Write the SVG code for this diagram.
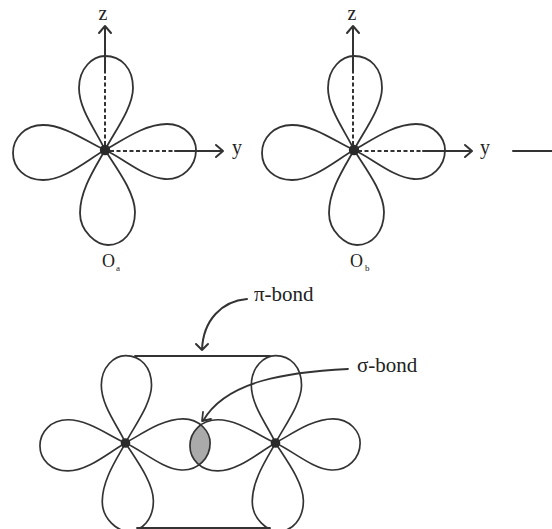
<svg xmlns="http://www.w3.org/2000/svg" width="552" height="529" viewBox="0 0 552 529">
<style>
.l{fill:none;stroke:#333;stroke-width:1.800;stroke-linecap:round;stroke-linejoin:round}
.a{fill:none;stroke:#333;stroke-width:2;stroke-linecap:round;stroke-linejoin:round}
.d{fill:none;stroke:#333;stroke-width:2;stroke-dasharray:4 2.500}
.t{font-family:"Liberation Serif","Times New Roman",serif;font-size:20px;fill:#222}
.b{font-family:"Liberation Serif","Times New Roman",serif;font-size:21px;fill:#222}
.o{font-family:"Liberation Serif","Times New Roman",serif;font-size:18px;fill:#222}
.s{font-family:"Liberation Serif","Times New Roman",serif;font-size:9px;fill:#222}
</style>
<defs>
<g id="lobes">
<path class="l" d="M0,0C-8,-18 -26,-40 -26,-62C-26,-82 -12,-94 0,-94C16,-94 28,-82 28,-62C28,-42 8,-16 0,0Z"/>
<path class="l" d="M0,0C-10,18 -25,40 -25,63C-25,82 -8,95 3,95C18,95 30,82 30,62C30,42 10,16 0,0Z"/>
<path class="l" d="M0,0C-18,-8 -40,-25 -62,-25C-80,-25 -92,-12 -92,3C-92,18 -80,30 -62,30C-40,30 -18,10 0,0Z"/>
<path class="l" d="M0,0C18,-10 40,-26 62,-26C80,-26 91,-12 91,0C91,16 78,30 60,29C40,28 18,8 0,0Z"/>
<circle r="5.200" fill="#2a2a2a"/>
</g>
<clipPath id="leftOfRightAtom">
<path transform="translate(275.500,443) scale(.93)" d="M0,0C-18,-8 -40,-25 -62,-25C-80,-25 -92,-12 -92,3C-92,18 -80,30 -62,30C-40,30 -18,10 0,0Z"/>
</clipPath>
</defs>
<g id="connectors">
<path class="a" d="M105,72V27M99,33L105,26L111,33"/>
<path class="d" d="M105,145V72"/>
<path class="d" d="M110,151H175"/>
<path class="a" d="M175,151H222M216,145L223,151L216,157"/>
<path class="a" d="M353,72V27M347,33L353,26L359,33"/>
<path class="d" d="M353,145V72"/>
<path class="d" d="M358,151H423"/>
<path class="a" d="M423,151H471M465,145L472,151L465,157"/>
<path class="a" d="M513,151H552"/>
<path class="a" d="M247,299C222,301 203,320 202,350M196,344L202,350L208,344"/>
<path class="l" d="M348,369C290,372 226,380 203,421M203,412L202,421L211,419"/>
<path class="l" d="M135,356H270"/>
<path class="l" d="M137,528H270"/>
</g>
<g id="node-oa">
<use href="#lobes" x="105" y="150"/>
<text class="t" x="103" y="20" text-anchor="middle">z</text>
<text class="t" x="232" y="154">y</text>
<text class="o" x="102" y="267">O</text><text class="s" x="116" y="271">a</text>
</g>
<g id="node-ob">
<use href="#lobes" x="354" y="150"/>
<text class="t" x="352" y="20" text-anchor="middle">z</text>
<text class="t" x="480" y="154">y</text>
<text class="o" x="350" y="267">O</text><text class="s" x="365" y="271">b</text>
</g>
<g id="node-overlap">
<g clip-path="url(#leftOfRightAtom)"><path transform="translate(125.500,443) scale(.93)" d="M0,0C18,-10 40,-26 62,-26C80,-26 91,-12 91,0C91,16 78,30 60,29C40,28 18,8 0,0Z" fill="#aaa"/></g>
</g>
<g id="node-left-bottom">
<use href="#lobes" transform="translate(125.500,443) scale(.93)"/>
</g>
<g id="node-right-bottom">
<use href="#lobes" transform="translate(275.500,443) scale(.93)"/>
</g>
<g id="label-pi"><text class="b" x="254" y="301">π-bond</text></g>
<g id="label-sigma"><text class="b" x="357" y="372">σ-bond</text></g>
</svg>
